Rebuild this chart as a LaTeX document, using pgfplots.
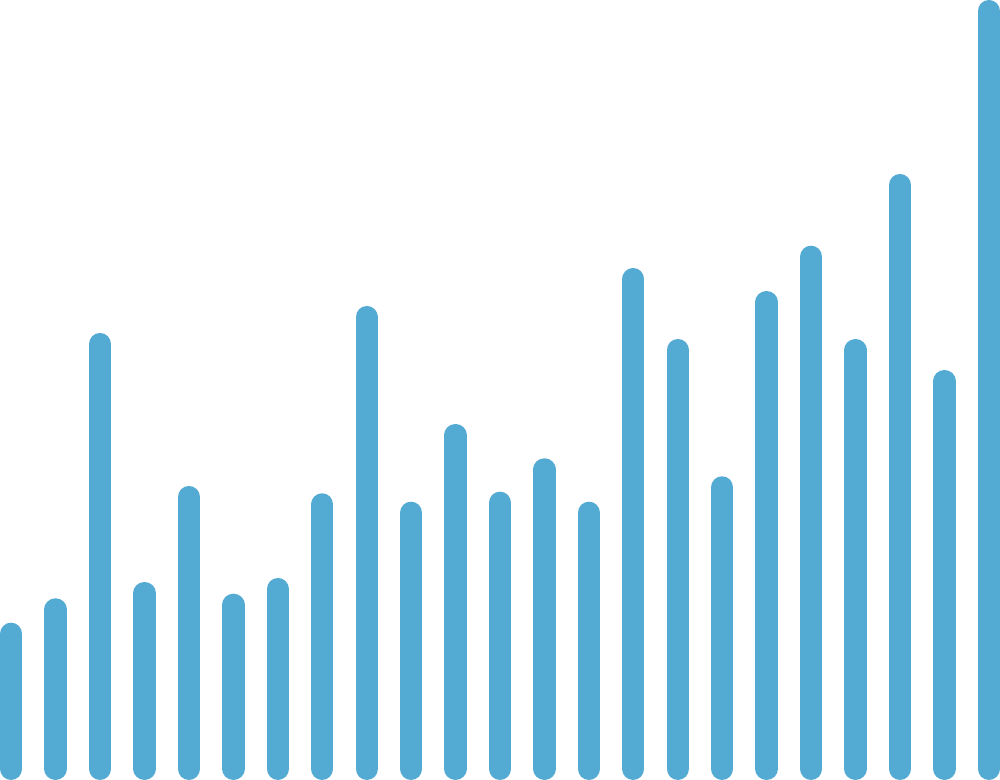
\documentclass[border=0pt]{standalone}
\usepackage{pgfplots}
\pgfplotsset{compat=1.18}
\definecolor{barblue}{RGB}{83,171,211}
\begin{document}
\begin{tikzpicture}
\begin{axis}[
  width=10cm, height=7.8cm, scale only axis,
  xmin=0, xmax=1000, ymin=-11.15, ymax=768.85,
  hide axis, clip=false,
]
\addplot[ycomb, barblue, line width=0.223cm, line cap=round, mark=none] coordinates {
(11.15,135.0) (55.6,159.4) (100.0,424.7) (144.5,175.7) (188.9,271.7)
(233.4,164.0) (277.8,179.7) (322.2,264.4) (366.7,451.7) (411.1,256.0)
(455.5,333.7) (500.0,266.0) (544.4,299.4) (588.9,256.0) (633.3,489.7)
(677.7,418.7) (722.2,281.4) (766.6,466.7) (811.1,512.0) (855.5,418.7)
(899.9,583.7) (944.4,387.7) (988.85,757.7)
};
\end{axis}
\end{tikzpicture}
\end{document}
